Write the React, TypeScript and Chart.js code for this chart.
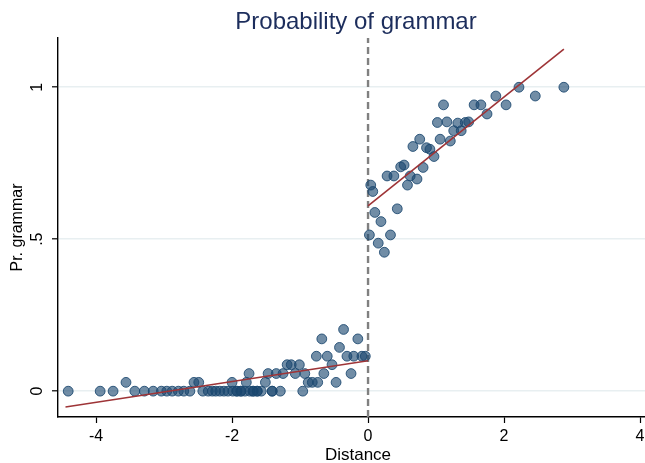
import React, { useEffect, useRef } from "react";
import { Chart, registerables } from "chart.js";

Chart.register(...registerables);

// Left of cutoff (Distance < 0)
const leftX: number[] = [
  -4.41, -3.94, -3.75, -3.43, -3.29, -3.16, -3.04, -2.96, -2.88, -2.79, -2.71, -2.62, -2.43, -2.35, -2.29,
  -2.24, -2.18, -2.12, -2.06, -1.99, -1.93, -1.87, -1.81, -1.74, -1.69, -1.63, -1.57, -1.41, -1.29, -0.96,
  -1.93, -1.87, -1.69, -1.63, -1.41,
  -3.56, -2.56, -2.49, -2.0, -1.79, -1.51, -0.88, -0.82, -0.74, -0.47,
  -1.75, -1.47, -1.35, -1.25, -1.07, -0.93, -0.65, -0.25,
  -1.19, -1.13, -1.01, -0.53,
  -0.76, -0.6, -0.31, -0.21, -0.09, -0.04,
  -0.42,
  -0.68, -0.15,
  -0.36,
];
const leftY: number[] = [
  0, 0, 0, 0, 0, 0, 0, 0, 0, 0, 0, 0, 0, 0, 0,
  0, 0, 0, 0, 0, 0, 0, 0, 0, 0, 0, 0, 0, 0, 0,
  0, 0, 0, 0, 0,
  0.029, 0.029, 0.029, 0.029, 0.029, 0.029, 0.029, 0.029, 0.029, 0.029,
  0.058, 0.058, 0.058, 0.058, 0.058, 0.058, 0.058, 0.058,
  0.087, 0.087, 0.087, 0.087,
  0.115, 0.115, 0.115, 0.115, 0.115, 0.115,
  0.144,
  0.172, 0.172,
  0.203,
];

// Right of cutoff (Distance >= 0)
const rightX: number[] = [
  0.02, 0.04, 0.07, 0.1, 0.15, 0.19, 0.24, 0.28, 0.33, 0.38, 0.43, 0.48, 0.53, 0.58, 0.62, 0.66, 0.72, 0.76,
  0.81, 0.86, 0.91, 0.97, 1.02, 1.06, 1.11, 1.16, 1.21, 1.26, 1.32, 1.37, 1.43, 1.48, 1.56, 1.66, 1.75, 1.88,
  2.03, 2.22, 2.46, 2.88,
];
const rightY: number[] = [
  0.514, 0.678, 0.657, 0.588, 0.487, 0.558, 0.457, 0.708, 0.514, 0.708, 0.6, 0.738, 0.744, 0.678, 0.708, 0.805,
  0.698, 0.829, 0.736, 0.801, 0.796, 0.772, 0.884, 0.829, 0.942, 0.886, 0.823, 0.857, 0.882, 0.857, 0.884,
  0.886, 0.942, 0.942, 0.912, 0.971, 0.942, 1.0, 0.971, 1.0,
];

// Linear fits on each side
const fitLeftX: number[] = [-4.45, 0];
const fitLeftY: number[] = [-0.052, 0.1];
const fitRightX: number[] = [0, 2.88];
const fitRightY: number[] = [0.61, 1.125];

const xTicks: number[] = [-4, -2, 0, 2, 4];
const yTicks: number[] = [0, 0.5, 1];
const yTickLabels: string[] = ["0", ".5", "1"];

const xRange: number[] = [-4.56, 4.2];
const yRange: number[] = [-0.085, 1.162];

const titleText = "Probability of grammar";
const xTitle = "Distance";
const yTitle = "Pr. grammar";

const FONT = "'Liberation Sans', Arial, Helvetica, sans-serif";

export default function App() {
  const ref = useRef<HTMLCanvasElement | null>(null);

  useEffect(() => {
    if (!ref.current) return;
    const zip = (xs: number[], ys: number[]) => xs.map((x, i) => ({ x, y: ys[i] }));

    const textPlugin = {
      id: "texts",
      afterDraw(chart: any) {
        const ctx = chart.ctx;
        const area = chart.chartArea;
        const ys = chart.scales.y;
        ctx.save();
        ctx.fillStyle = "#000";
        ctx.font = `16px ${FONT}`;
        ctx.textAlign = "center";
        ctx.textBaseline = "middle";
        yTicks.forEach((v, i) => {
          const py = ys.getPixelForValue(v);
          ctx.save();
          ctx.translate(38, py);
          ctx.rotate(-Math.PI / 2);
          ctx.fillText(yTickLabels[i], 0, 0);
          ctx.restore();
        });
        ctx.font = `16px ${FONT}`;
        ctx.save();
        ctx.translate(18, (area.top + area.bottom) / 2);
        ctx.rotate(-Math.PI / 2);
        ctx.fillText(yTitle, 0, 0);
        ctx.restore();
        ctx.font = `17px ${FONT}`;
        ctx.fillText(xTitle, 358, 455);
        ctx.fillStyle = "#1c2d5c";
        ctx.font = `24px ${FONT}`;
        ctx.fillText(titleText, 356, 22);
        ctx.restore();
      },
    };

    const chart = new Chart(ref.current, {
      type: "scatter",
      data: {
        datasets: [
          {
            type: "line",
            data: zip(fitLeftX, fitLeftY),
            borderColor: "#9e3437",
            borderWidth: 1.6,
            pointRadius: 0,
            order: 0,
          },
          {
            type: "line",
            data: zip(fitRightX, fitRightY),
            borderColor: "#9e3437",
            borderWidth: 1.6,
            pointRadius: 0,
            order: 0,
          },
          {
            type: "scatter",
            data: [...zip(leftX, leftY), ...zip(rightX, rightY)],
            backgroundColor: "rgba(26,71,111,0.62)",
            borderColor: "rgba(26,71,111,0.85)",
            borderWidth: 1,
            pointRadius: 4.9,
            order: 1,
          },
          {
            type: "line",
            data: [
              { x: 0, y: yRange[0] },
              { x: 0, y: yRange[1] },
            ],
            borderColor: "#808080",
            borderWidth: 2.4,
            borderDash: [7, 4],
            pointRadius: 0,
            order: 2,
          },
        ],
      } as any,
      options: {
        animation: false,
        responsive: false,
        devicePixelRatio: 1,
        layout: { padding: { top: 38, left: 0, right: 16.4, bottom: 0 } },
        plugins: {
          legend: { display: false },
          tooltip: { enabled: false },
          title: { display: false },
        },
        scales: {
          x: {
            type: "linear",
            min: xRange[0],
            max: xRange[1],
            afterBuildTicks: (s: any) => {
              s.ticks = xTicks.map((v) => ({ value: v }));
            },
            afterFit: (s: any) => {
              s.height = 46;
            },
            border: { color: "#000", width: 1.4 },
            grid: {
              drawOnChartArea: false,
              drawTicks: true,
              tickLength: 6,
              tickColor: "#000",
              tickWidth: 1.2,
            },
            ticks: {
              color: "#000",
              font: { family: FONT, size: 16 },
              padding: 4,
              maxRotation: 0,
              minRotation: 0,
              callback: (v: any) => String(v),
            },
          },
          y: {
            type: "linear",
            min: yRange[0],
            max: yRange[1],
            afterBuildTicks: (s: any) => {
              s.ticks = yTicks.map((v) => ({ value: v }));
            },
            afterFit: (s: any) => {
              s.width = 58;
            },
            border: { color: "#000", width: 1.4 },
            grid: {
              color: "#e8eff1",
              lineWidth: 1.6,
              drawTicks: true,
              tickLength: 6,
              tickColor: "#000",
              tickWidth: 1.2,
            },
            ticks: { display: false },
          },
        },
      } as any,
      plugins: [textPlugin],
    });
    return () => chart.destroy();
  }, []);

  return (
    <div
      style={{
        position: "absolute",
        left: 0,
        top: 0,
        width: 645,
        height: 463,
        overflow: "hidden",
        background: "#fff",
      }}
    >
      <canvas ref={ref} width={670} height={463} style={{ display: "block" }} />
    </div>
  );
}
